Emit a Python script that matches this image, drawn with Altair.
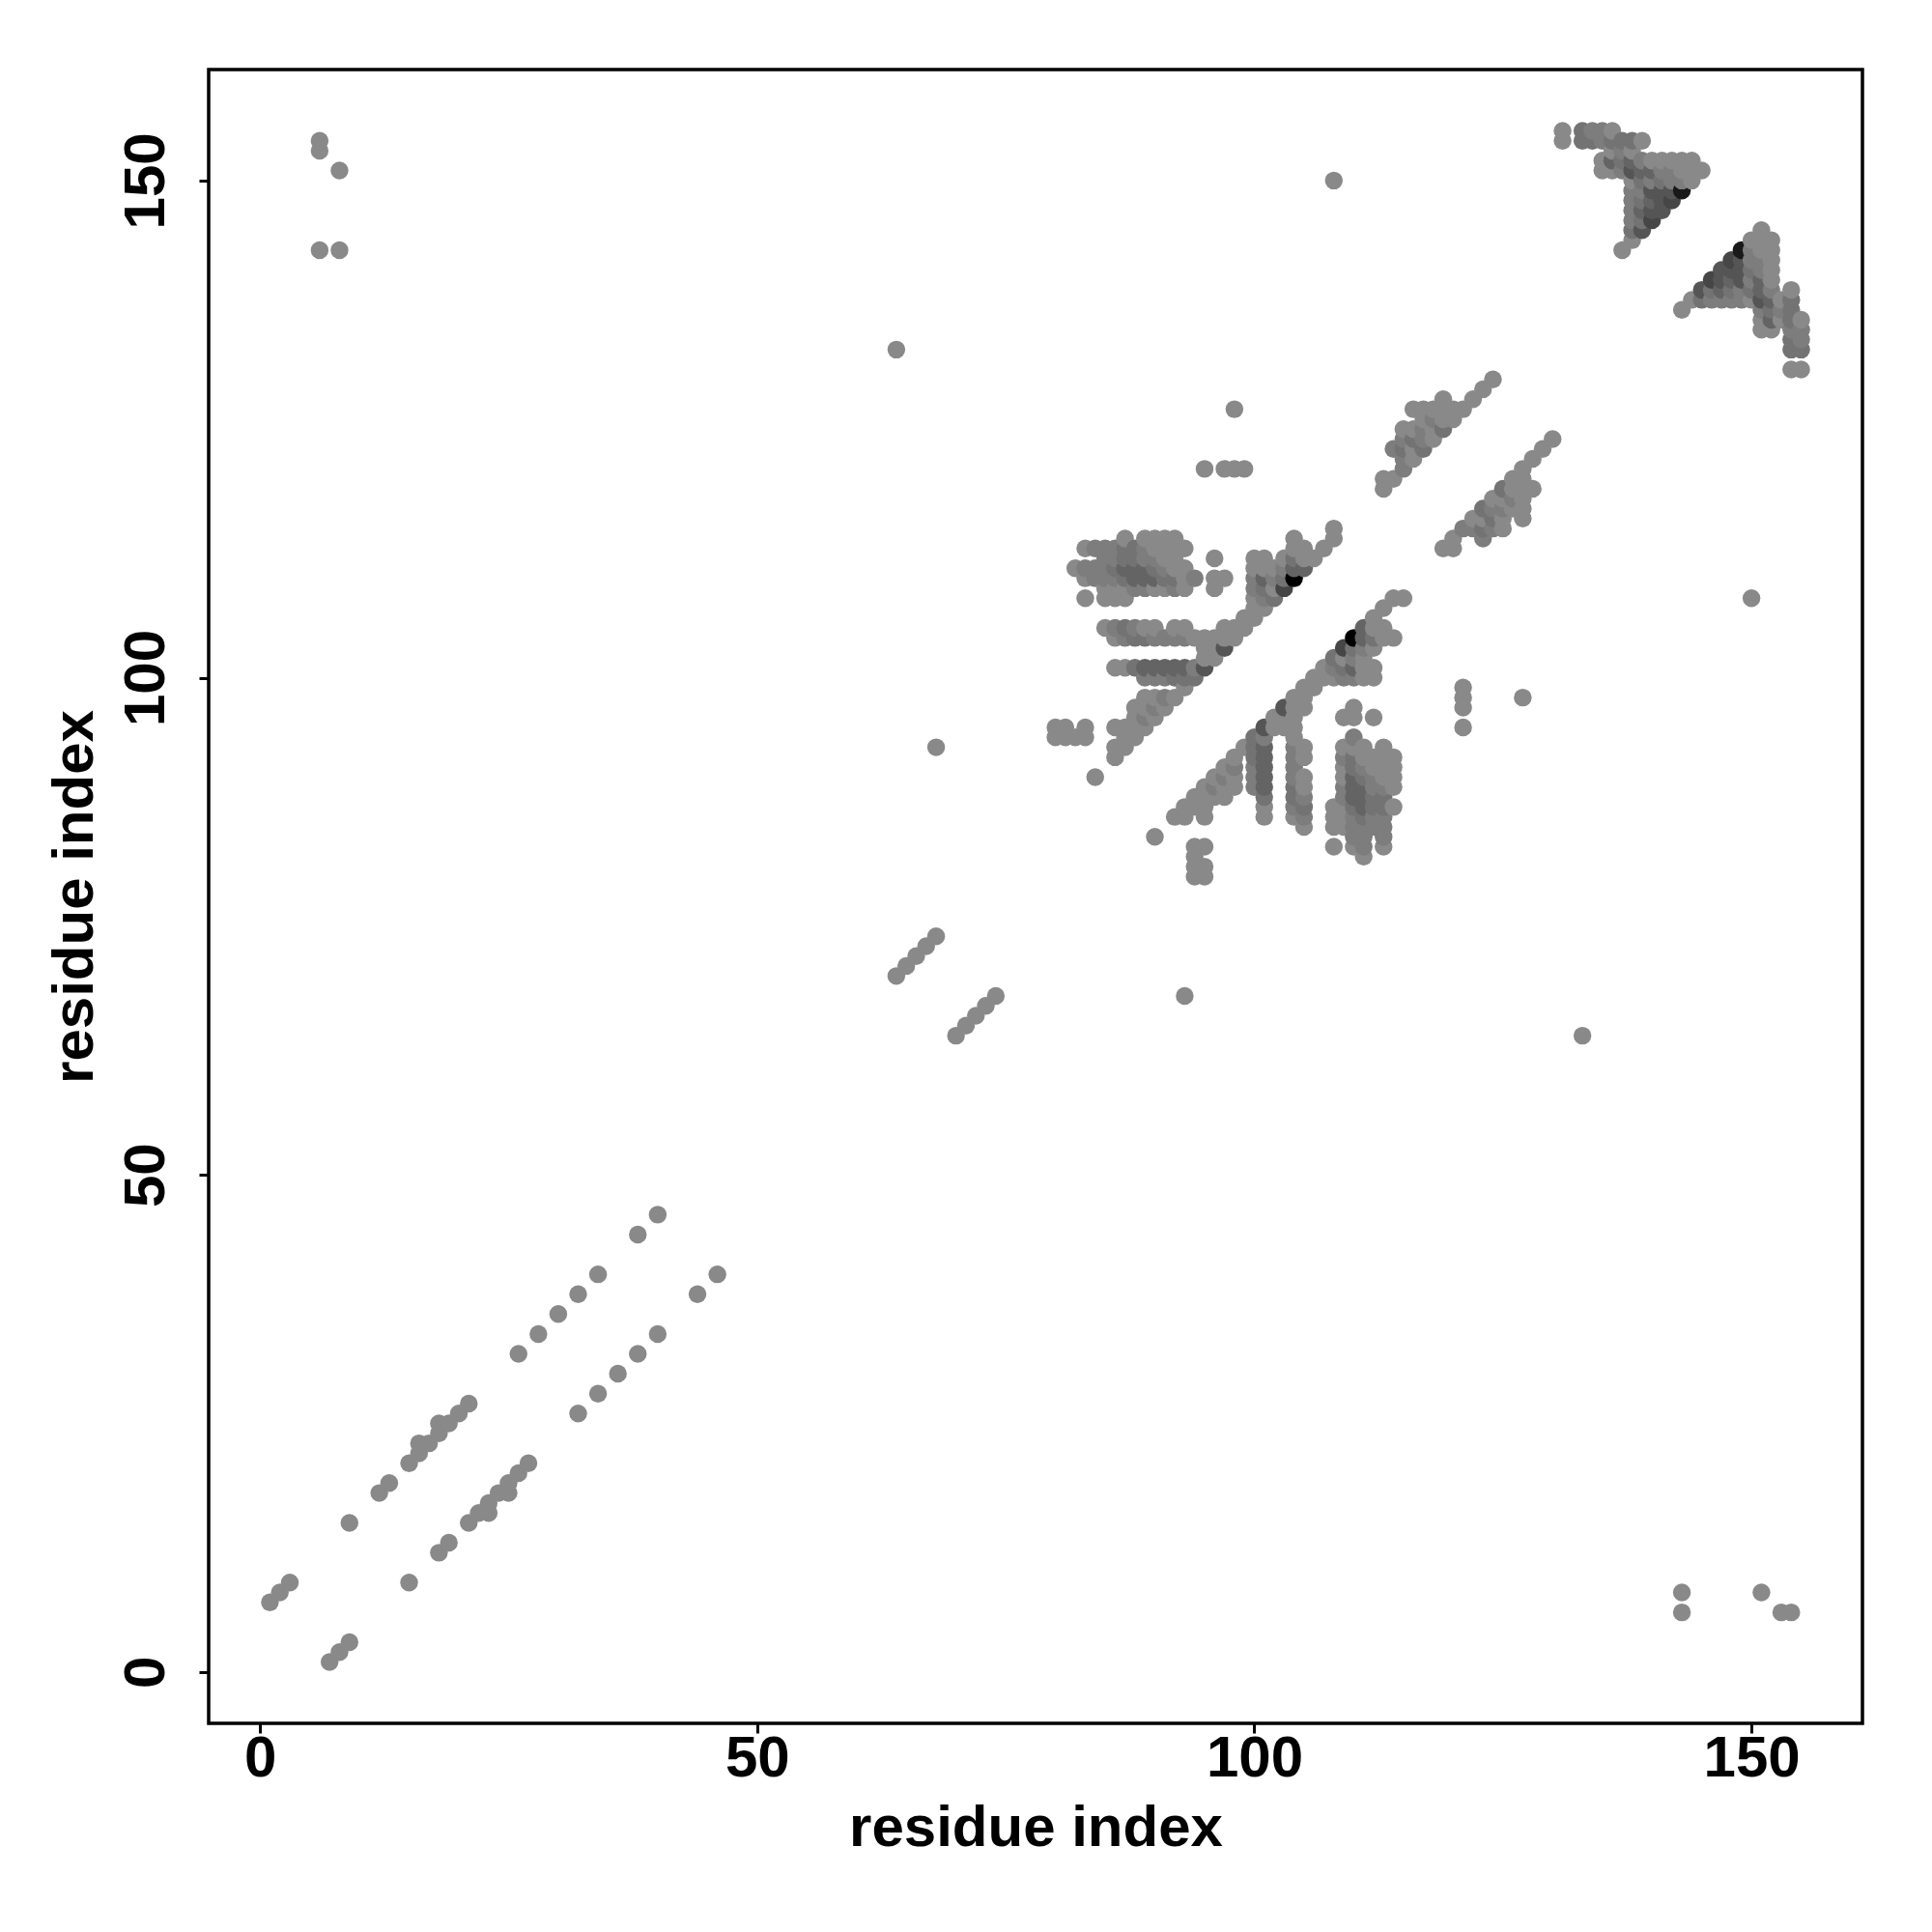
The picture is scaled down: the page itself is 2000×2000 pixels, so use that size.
import altair as alt
import pandas as pd

# Contacts of the lower triangle: row y -> residues x. The map is symmetric.
LOWER = {
    1: [7], 2: [8], 3: [9], 9: [15], 12: [18], 13: [19], 15: [21], 16: [22, 23], 17: [23],
    18: [24, 25], 19: [25], 20: [26], 21: [27], 26: [32], 28: [34], 30: [36], 32: [38],
    34: [40], 38: [44], 40: [46], 64: [70, 133], 65: [71], 66: [72], 67: [73], 68: [74, 93],
    6: [143, 153, 154], 8: [143, 151],
    80: [94, 95], 81: [94, 95], 82: [94, 111], 83: [94, 95, 108, 110, 111, 113],
    84: [90, 110, 111, 113],
    85: [105, 108, 109, 110, 111, 112, 113],
    86: [92, 93, 95, 101, 104, 105, 108, 109, 110, 111, 112, 113],
    87: [93, 94, 95, 101, 104, 105, 108, 109, 110, 111, 112, 113, 114],
    88: [94, 95, 96, 97, 101, 104, 105, 109, 110, 111, 112, 113],
    89: [95, 96, 97, 98, 100, 101, 104, 105, 109, 110, 111, 112, 113, 114],
    90: [96, 97, 98, 100, 101, 104, 105, 109, 110, 111, 112, 113, 114],
    91: [97, 98, 100, 101, 104, 109, 110, 111, 112, 113, 114],
    92: [98, 100, 101, 104, 105, 109, 110, 111, 112, 113, 114],
    93: [99, 100, 101, 104, 105, 109, 110, 111, 113],
    94: [100, 101, 104, 110],
    95: [101, 102, 103, 104, 121],
    96: [102, 103, 104, 109, 110, 112],
    97: [103, 104, 105, 110, 121],
    98: [104, 105, 121, 127],
    99: [105, 106, 121],
    100: [106, 107, 108, 109, 110, 111, 112],
    101: [107, 108, 109, 110, 111, 112],
    102: [108, 109, 110, 111],
    103: [109, 110, 111, 112],
    104: [110, 111, 112, 113, 114],
    105: [111, 112, 113],
    106: [112], 107: [113], 108: [114, 115, 150],
    113: [119, 120], 114: [120, 123], 115: [121, 122, 123, 124, 125],
    116: [122, 123, 124, 125, 127], 117: [123, 124, 125, 126, 127],
    118: [124, 125, 126, 127], 119: [125, 126, 127, 128], 120: [126, 127],
    121: [127], 122: [128], 123: [129], 124: [130],
    131: [154, 155], 133: [154, 155], 134: [154, 155], 135: [151, 152, 154, 155],
    136: [151, 152, 153, 154, 155], 137: [143, 151, 152, 153, 154],
    138: [144, 145, 146, 147, 148, 149, 150, 151, 152, 153, 154],
    139: [145, 146, 147, 148, 149, 150, 151, 152, 154],
    140: [146, 147, 148, 149, 150, 151, 152],
    141: [147, 148, 149, 150, 151, 152],
    142: [148, 149, 150, 151, 152], 143: [149, 150, 151, 152],
    144: [150, 151, 152], 145: [151],
}

# Grey levels, as (x, y) of the lower triangle.
GREY_0 = [(110, 104)]
GREY_25 = [(149, 143)]
GREY_70 = [(109, 103), (148, 142), (146, 140)]
GREY_85 = [(101, 95), (103, 97), (147, 141), (145, 139), (149, 140), (149, 142), (151, 138), (149, 141),
           (148, 141), (147, 140)]
GREY_100 = [(111, 105), (111, 104), (110, 101), (110, 90), (110, 89), (111, 89), (111, 88), (110, 88),
            (111, 87), (101, 93), (101, 92), (101, 91), (101, 90), (101, 89), (151, 139), (152, 138),
            (151, 140), (148, 140), (147, 139), (152, 136)]
GREY_115 = [(109, 101), (110, 103), (112, 104), (100, 94), (100, 93), (100, 92), (101, 88), (110, 92),
            (110, 91), (110, 87), (111, 90), (111, 86), (112, 87), (112, 88), (113, 87), (113, 88),
            (104, 89), (104, 88), (105, 87), (125, 119), (123, 115), (123, 117), (124, 116),
            (146, 139), (148, 139), (150, 141), (150, 139), (152, 137), (154, 134), (154, 133), (155, 133),
            (154, 137), (154, 136), (154, 138), (145, 138), (139, 133), (139, 135), (108, 102)]
GREY_125 = [(100, 91), (100, 90), (100, 89), (101, 94), (104, 92), (104, 91), (104, 90), (104, 87),
            (105, 88), (109, 92), (109, 89), (109, 88), (110, 94), (110, 86), (110, 85), (110, 84),
            (111, 91), (111, 85), (111, 84), (111, 83), (112, 90), (112, 89), (112, 86), (112, 85),
            (113, 89), (113, 86), (113, 85), (113, 84), (109, 100), (110, 100), (110, 102), (111, 103),
            (108, 101), (104, 93), (121, 115), (122, 115), (123, 114), (124, 115), (124, 117), (125, 117),
            (126, 118), (150, 143), (150, 142), (150, 140), (151, 141), (151, 142), (151, 137), (152, 139),
            (146, 138), (147, 138), (148, 138), (149, 139), (149, 138), (154, 135), (155, 134), (155, 135),
            (153, 137), (133, 131), (96, 89), (97, 90), (98, 91), (105, 86)]

LEVELS = {0: GREY_0, 25: GREY_25, 70: GREY_70, 85: GREY_85, 100: GREY_100, 115: GREY_115, 125: GREY_125}
BASE_GREY = 137

grey = {}
for level, pts in LEVELS.items():
    for p in pts:
        grey[p] = level

rows = []
for y, xs in LOWER.items():
    for x in xs:
        g = grey.get((x, y), BASE_GREY)
        rows.append({"x": x, "y": y, "g": g})
        rows.append({"x": y, "y": x, "g": g})
df = pd.DataFrame(rows).drop_duplicates(["x", "y"]).sort_values(["x", "y"])
df["c"] = [f"rgb({g},{g},{g})" for g in df["g"]]

X_DOMAIN = [-5.16, 161.16]
Y_DOMAIN = [-5.16, 161.16]
TICKS = [0, 50, 100, 150]
FONT = "Liberation Sans"
FS = 60

chart = (
    alt.Chart(df)
    .mark_circle(size=340, opacity=1)
    .encode(
        x=alt.X("x:Q", scale=alt.Scale(domain=X_DOMAIN, nice=False, zero=False),
                axis=alt.Axis(values=TICKS, title="residue index", grid=False, domain=False,
                              tickColor="black", tickWidth=3, tickSize=10, labelPadding=-3,
                              labelFont=FONT, labelFontWeight="bold", labelFontSize=FS, labelColor="black",
                              titleFont=FONT, titleFontWeight="bold", titleFontSize=FS, titleColor="black",
                              titlePadding=13, labelOverlap=False)),
        y=alt.Y("y:Q", scale=alt.Scale(domain=Y_DOMAIN, nice=False, zero=False),
                axis=alt.Axis(values=TICKS, title="residue index", grid=False, domain=False,
                              tickColor="black", tickWidth=3, tickSize=10, labelPadding=24, labelAngle=270,
                              labelAlign="center", labelBaseline="bottom",
                              labelFont=FONT, labelFontWeight="bold", labelFontSize=FS, labelColor="black",
                              titleFont=FONT, titleFontWeight="bold", titleFontSize=FS, titleColor="black",
                              titlePadding=13, labelOverlap=False)),
        color=alt.Color("c:N", scale=None),
        order=alt.Order("x:Q"),
    )
    .properties(width=1712, height=1712, background="white",
                padding={"left": 39, "top": 64, "right": 5, "bottom": 5})
    .configure_view(stroke="black", strokeWidth=3.5, fill="white")
)
chart.save("out.html", embed_options={"renderer": "svg", "actions": False})
